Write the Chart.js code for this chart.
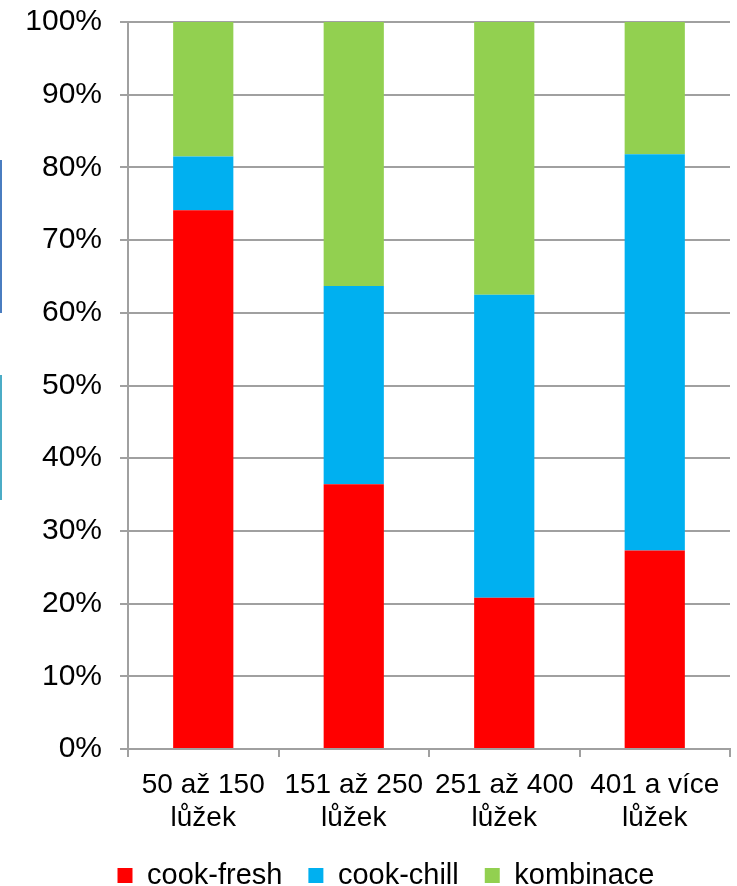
<!DOCTYPE html>
<html lang="cs">
<head>
    <meta charset="UTF-8">
    <title>Systém výroby stravy podle počtu lůžek</title>
    <script src="https://cdn.jsdelivr.net/npm/chart.js"></script>
    <style>
        body { margin: 0; background: #fff; }
        #wrap { position: relative; width: 737px; height: 886px; }
        .edge { position: absolute; left: 0; width: 2px; }
    </style>
</head>
<body>
<div id="wrap">
    <canvas id="myChart" width="737" height="886"></canvas>
    <!-- edge marks left over from the slide crop -->
    <div class="edge" style="top:160px;height:153px;background:#4a7dc0;"></div>
    <div class="edge" style="top:375px;height:125px;background:#4bacc6;"></div>
</div>

<script>
    // categories (two-line labels)
    const categories = [
        ['50 až 150', 'lůžek'],
        ['151 až 250', 'lůžek'],
        ['251 až 400', 'lůžek'],
        ['401 a více', 'lůžek']
    ];

    // shares in percent
    const cookFresh  = [74.1, 36.4, 20.8, 27.3];
    const cookChill  = [7.4, 27.3, 41.7, 54.5];
    const kombinace  = [18.5, 36.4, 37.5, 18.2];

    const yTicks = [0, 10, 20, 30, 40, 50, 60, 70, 80, 90, 100];

    const fontFamily = '"Liberation Sans", Arial, sans-serif';
    const gridColor = '#a0a0a0';

    // the legend in the original sits a bit right of the canvas centre
    const shiftLegend = {
        id: 'shiftLegend',
        afterLayout(chart) {
            chart.legend.left += 42;
        }
    };

    const ctx = document.getElementById('myChart').getContext('2d');
    new Chart(ctx, {
        type: 'bar',
        data: {
            labels: categories,
            datasets: [
                { label: 'cook-fresh', data: cookFresh, backgroundColor: '#ff0000' },
                { label: 'cook-chill', data: cookChill, backgroundColor: '#00b0f0' },
                { label: 'kombinace', data: kombinace, backgroundColor: '#92d050' }
            ]
        },
        plugins: [shiftLegend],
        options: {
            responsive: false,
            animation: false,
            layout: { padding: { left: 0, right: 7, top: 22, bottom: -14 } },
            datasets: { bar: { barPercentage: 0.4, categoryPercentage: 1 } },
            plugins: {
                legend: {
                    position: 'bottom',
                    labels: {
                        font: { family: fontFamily, size: 29 },
                        color: '#000',
                        boxWidth: 15,
                        boxHeight: 15,
                        padding: 26
                    }
                },
                tooltip: { enabled: false }
            },
            scales: {
                x: {
                    stacked: true,
                    grid: {
                        display: true,
                        drawOnChartArea: false,
                        color: gridColor,
                        lineWidth: 2,
                        tickLength: 8
                    },
                    border: { color: gridColor, width: 2 },
                    ticks: {
                        font: { family: fontFamily, size: 28, lineHeight: 1.18 },
                        color: '#000',
                        padding: 12,
                        maxRotation: 0
                    },
                    afterFit: (scale) => { scale.height = 86; }
                },
                y: {
                    stacked: true,
                    min: 0,
                    max: 100,
                    afterBuildTicks: (scale) => { scale.ticks = yTicks.map(v => ({ value: v })); },
                    grid: { color: gridColor, lineWidth: 2, tickLength: 8 },
                    border: { color: gridColor, width: 2 },
                    ticks: {
                        font: { family: fontFamily, size: 30 },
                        color: '#000',
                        padding: 18,
                        callback: (v) => v + '%'
                    },
                    afterFit: (scale) => {
                        scale.width = 128;
                        scale.paddingTop = 0;
                        scale.paddingBottom = 0;
                    }
                }
            }
        }
    });
</script>
</body>
</html>
